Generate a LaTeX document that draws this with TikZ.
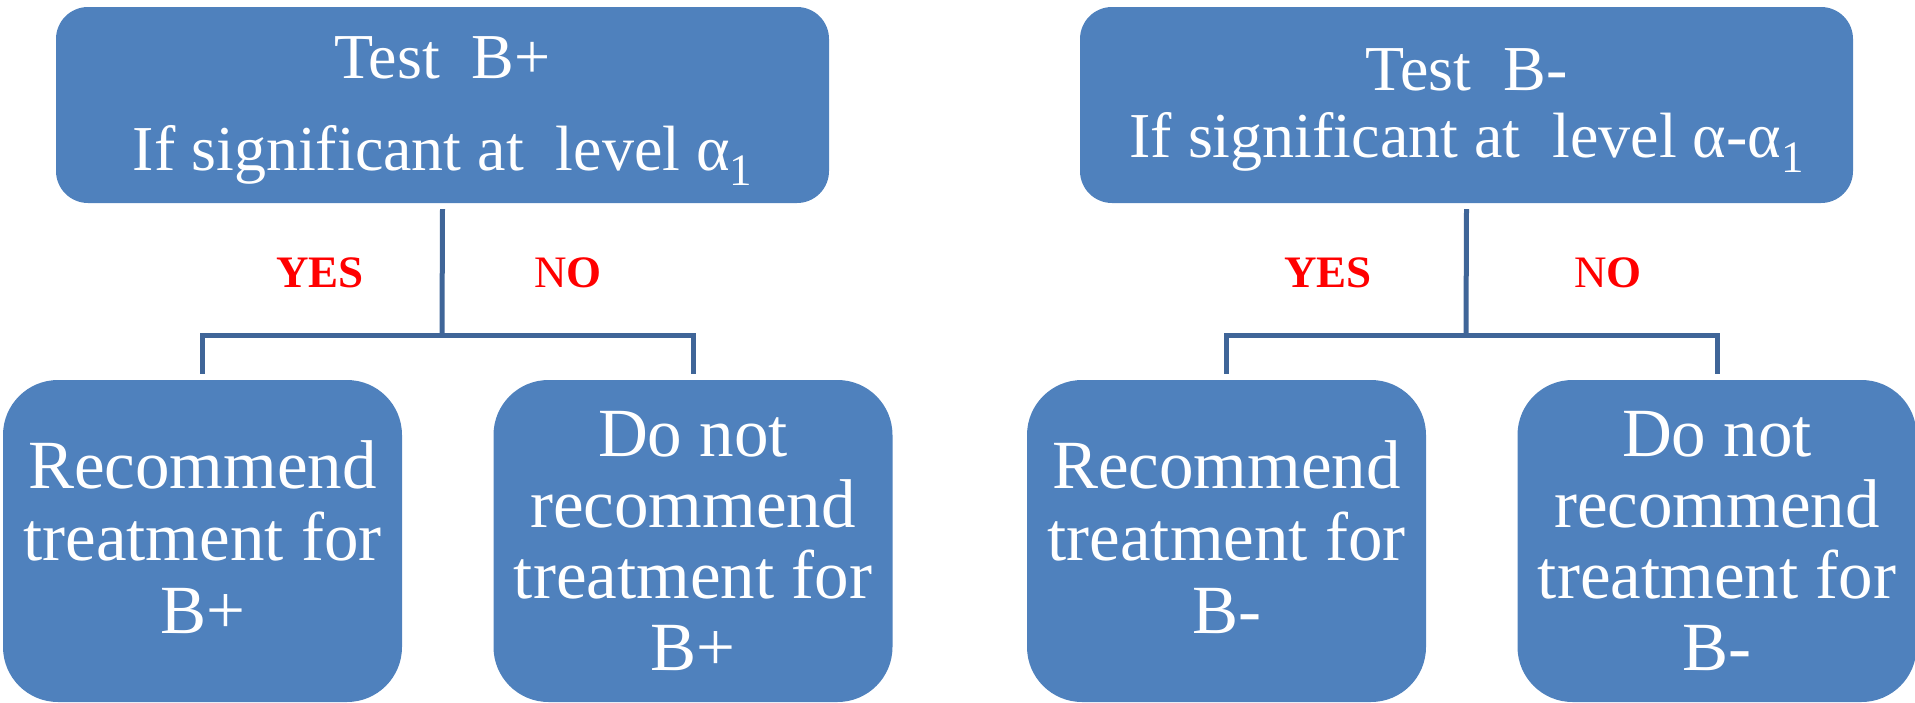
\documentclass[tikz,border=0pt]{standalone}
\usepackage{fontspec}
\setmainfont{Liberation Serif}
\definecolor{boxblue}{HTML}{4F81BD}
\definecolor{linkblue}{RGB}{63,101,152}
\newcommand{\alphasub}{\raisebox{-15pt}{\fontsize{45}{45}\selectfont 1}}
\begin{document}
\begin{tikzpicture}[x=1pt,y=-1pt,
  topbox/.style={draw=none,fill=boxblue,rounded corners=32pt,minimum width=773pt,minimum height=196pt,inner sep=0pt},
  botbox/.style={draw=none,fill=boxblue,rounded corners=55pt,minimum width=399pt,minimum height=322pt,inner sep=0pt},
  toptxt/.style={text=white,inner sep=0pt,anchor=base,font=\fontsize{64}{64}\selectfont},
  bottxt/.style={text=white,inner sep=0pt,anchor=base,font=\fontsize{69}{69}\selectfont},
  answer/.style={text=red,inner sep=0pt,anchor=base,font=\fontsize{45}{45}\selectfont},
  conn/.style={draw=linkblue,line width=5pt,line join=miter}]
\useasboundingbox (0,0) rectangle (1915,702);
% boxes
\node[topbox] (A) at (442.5,105) {};
\node[topbox] (B) at (1466.5,105) {};
\node[botbox] (A1) at (202.5,541) {};
\node[botbox] (A2) at (693,541) {};
\node[botbox] (B1) at (1226.5,541) {};
\node[botbox] (B2) at (1717,541) {};
% texts left
\node[toptxt] (At1) at (442.5,78) {Test~~B+};
\node[toptxt] (At2) at (442.5,170) {If significant at~~level α\alphasub};
\node[bottxt] (A1t1) at (202.5,488) {Recommend};
\node[bottxt] (A1t2) at (202.5,560) {treatment for};
\node[bottxt] (A1t3) at (202.5,633) {B+};
\node[bottxt] (A2t1) at (693,456) {Do not};
\node[bottxt] (A2t2) at (693,527) {recommend};
\node[bottxt] (A2t3) at (693,598) {treatment for};
\node[bottxt] (A2t4) at (693,670) {B+};
% texts right
\node[toptxt] (Bt1) at (1466.5,90) {Test~~B-};
\node[toptxt] (Bt2) at (1466.5,157) {If significant at~~level α-α\alphasub};
\node[bottxt] (B1t1) at (1226.5,488) {Recommend};
\node[bottxt] (B1t2) at (1226.5,560) {treatment for};
\node[bottxt] (B1t3) at (1226.5,633) {B-};
\node[bottxt] (B2t1) at (1717,456) {Do not};
\node[bottxt] (B2t2) at (1717,527) {recommend};
\node[bottxt] (B2t3) at (1717,598) {treatment for};
\node[bottxt] (B2t4) at (1717,670) {B-};
% answers
\node[answer] (yA) at (320,287) {\textbf{YES}};
\node[answer] (nA) at (568,287) {N\textbf{O}};
\node[answer] (yB) at (1328,287) {\textbf{YES}};
\node[answer] (nB) at (1608,287) {N\textbf{O}};
% connectors
\coordinate (jA) at (442,335);
\coordinate (jB) at (1466,335);
\draw[conn] ([yshift=-6pt]A.south) -- (jA);
\draw[conn] ([yshift=6pt]A1.north) |- (jA) -| ([yshift=6pt]A2.north);
\draw[conn] ([yshift=-6pt]B.south) -- (jB);
\draw[conn] ([yshift=6pt]B1.north) |- (jB) -| ([yshift=6pt]B2.north);
\end{tikzpicture}
\end{document}
